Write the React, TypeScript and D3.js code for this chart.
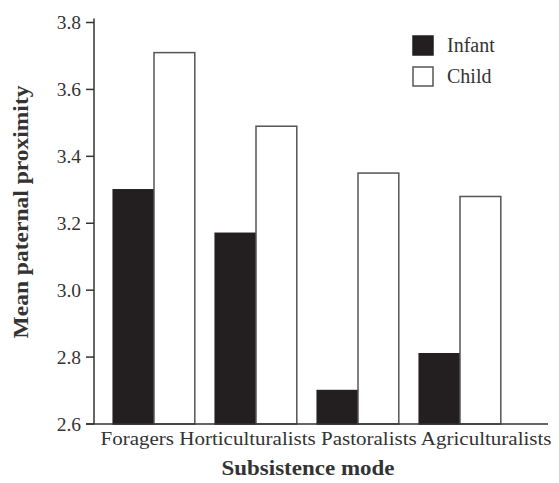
import React from "react";
import * as d3 from "d3";

const categories = ["Foragers", "Horticulturalists", "Pastoralists", "Agriculturalists"];
const seriesNames = ["Infant", "Child"];
const infantValues = [3.30, 3.17, 2.70, 2.81];
const childValues = [3.71, 3.49, 3.35, 3.28];
const yTicks = [2.6, 2.8, 3.0, 3.2, 3.4, 3.6, 3.8];

const W = 559;
const H = 483;
const axisX = 94;
const axisEndX = 548;
const font = "'Liberation Serif', 'DejaVu Serif', serif";
const darkFill = "#231f20";
const strokeCol = "#555";

export default function App() {
  const y = d3.scaleLinear().domain([2.6, 3.8]).range([424, 22.5]);
  const x0 = d3.scaleBand<string>().domain(categories).range([103, 511]).paddingInner(0.2).paddingOuter(0.1);
  const x1 = d3.scaleBand<string>().domain(seriesNames).range([0, x0.bandwidth()]);
  const values: Record<string, number[]> = { Infant: infantValues, Child: childValues };

  return (
    <svg width={W} height={H} style={{ position: "absolute", left: 0, top: 0, background: "#fff" }}>
      <rect x={0} y={0} width={W} height={H} fill="#fff" />
      {categories.map((c, i) =>
        seriesNames.map((s) => {
          const v = values[s][i];
          const bx = (x0(c) as number) + (x1(s) as number);
          const isInfant = s === "Infant";
          return (
            <rect
              key={c + s}
              x={bx}
              y={y(v)}
              width={x1.bandwidth()}
              height={y(2.6) - y(v)}
              fill={isInfant ? darkFill : "#fff"}
              stroke={isInfant ? darkFill : strokeCol}
              strokeWidth={1.5}
            />
          );
        })
      )}
      {/* y axis */}
      <line x1={axisX} x2={axisX} y1={y(3.8) - 4} y2={y(2.6)} stroke="#333" strokeWidth={1.5} />
      {yTicks.map((t) => (
        <g key={t}>
          <line x1={axisX - 8} x2={axisX} y1={y(t)} y2={y(t)} stroke="#333" strokeWidth={1.5} />
          <text x={axisX - 13} y={y(t)} dy="0.35em" textAnchor="end" fontFamily={font} fontSize={19.5} fill="#333">
            {d3.format(".1f")(t)}
          </text>
        </g>
      ))}
      {/* x axis */}
      <line x1={axisX - 8} x2={axisEndX} y1={y(2.6)} y2={y(2.6)} stroke="#333" strokeWidth={1.5} />
      <text x={326} y={445} textAnchor="middle" fontFamily={font} fontSize={18.5} fill="#333" textLength={451} lengthAdjust="spacingAndGlyphs">
        {categories.join(" ")}
      </text>
      {/* axis titles */}
      <text x={308} y={475} textAnchor="middle" fontFamily={font} fontSize={20} fontWeight="bold" fill="#333" textLength={173} lengthAdjust="spacingAndGlyphs">
        Subsistence mode
      </text>
      <text transform={`translate(28,212) rotate(-90)`} textAnchor="middle" fontFamily={font} fontSize={20} fontWeight="bold" fill="#333" textLength={253} lengthAdjust="spacingAndGlyphs">
        Mean paternal proximity
      </text>
      {/* legend */}
      {seriesNames.map((s, i) => (
        <g key={s} transform={`translate(413,${36 + i * 31})`}>
          <rect x={0} y={0} width={20} height={19} fill={s === "Infant" ? darkFill : "#fff"} stroke={s === "Infant" ? darkFill : strokeCol} strokeWidth={1.5} />
          <text x={34} y={16} fontFamily={font} fontSize={20} fill="#333">{s}</text>
        </g>
      ))}
    </svg>
  );
}
